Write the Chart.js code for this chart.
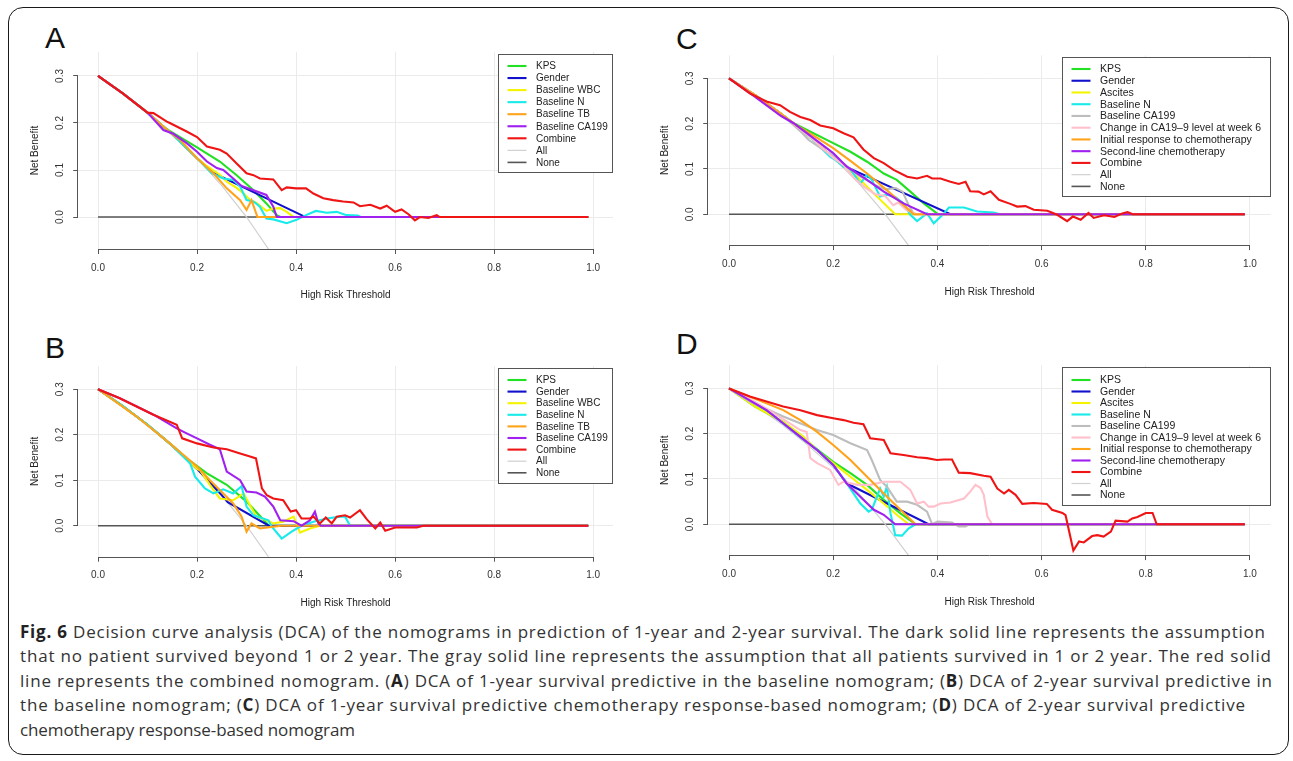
<!DOCTYPE html>
<html><head><meta charset="utf-8">
<script src="https://cdn.jsdelivr.net/npm/chart.js@4.4.0/dist/chart.umd.min.js"></script>
<style>
html,body{margin:0;padding:0;background:#fff;}
body{width:1293px;height:761px;position:relative;overflow:hidden;font-family:"Liberation Sans",Arial,sans-serif;}
#frame{position:absolute;left:8px;top:7px;width:1279px;height:746px;border:1.6px solid #1a1a1a;border-radius:15px;}
.plabel{position:absolute;font-size:30px;line-height:30px;color:#111;font-family:"Liberation Sans",Arial,sans-serif;}
canvas{position:absolute;}
#caption{position:absolute;left:20px;top:620px;font-family:"Open Sans",sans-serif;font-size:17px;color:#333;line-height:24.4px;}
.cl{white-space:nowrap;display:block;}
.cl b{color:#222;}
</style></head><body>
<div id="frame"></div>
<div class="plabel" style="left:45px;top:23px;">A</div>
<div class="plabel" style="left:45px;top:333px;">B</div>
<div class="plabel" style="left:676px;top:24px;">C</div>
<div class="plabel" style="left:676px;top:329px;">D</div>
<div id="caption">
<span class="cl" data-w="1245"><b>Fig. 6</b> Decision curve analysis (DCA) of the nomograms in prediction of 1-year and 2-year survival. The dark solid line represents the assumption</span>
<span class="cl" data-w="1251">that no patient survived beyond 1 or 2 year. The gray solid line represents the assumption that all patients survived in 1 or 2 year. The red solid</span>
<span class="cl" data-w="1252">line represents the combined nomogram. (<b>A</b>) DCA of 1-year survival predictive in the baseline nomogram; (<b>B</b>) DCA of 2-year survival predictive in</span>
<span class="cl" data-w="1225">the baseline nomogram; (<b>C</b>) DCA of 1-year survival predictive chemotherapy response-based nomogram; (<b>D</b>) DCA of 2-year survival predictive</span>
<span class="cl" data-w="335">chemotherapy response-based nomogram</span>
</div>
<script>
// ---------- tick labels ----------
const X_TICKS = [0, 0.2, 0.4, 0.6, 0.8, 1.0];
const Y_TICKS = [0, 0.1, 0.2, 0.3];

// ---------- legend labels ----------
const LABELS_AB = ['KPS','Gender','Baseline WBC','Baseline N','Baseline TB','Baseline CA199','Combine','All','None'];
const LABELS_CD = ['KPS','Gender','Ascites','Baseline N','Baseline CA199','Change in CA19\u20139 level at week 6','Initial response to chemotherapy','Second-line chemotherapy','Combine','All','None'];

// ---------- reference strategies ----------
const TREAT_ALL = [[0,0.3],[0.05,0.263],[0.1,0.222],[0.15,0.176],[0.2,0.125],[0.25,0.067],[0.3,0.0],[0.35,-0.077],[0.4,-0.167]];
const TREAT_NONE = [[0,0],[0.99,0]];

// ---------- Panel A : 1-year, baseline nomogram ----------
const A_KPS = [[0,0.3],[0.05,0.263],[0.1,0.222],[0.132,0.191],[0.2,0.148],[0.246,0.118],[0.28,0.089],[0.314,0.057],[0.34,0.029],[0.361,0.004],[0.368,0],[0.99,0]];
const A_GENDER = [[0,0.3],[0.05,0.263],[0.1,0.222],[0.15,0.176],[0.2,0.125],[0.233,0.094],[0.415,0.002],[0.42,0],[0.99,0]];
const A_WBC = [[0,0.3],[0.05,0.263],[0.1,0.222],[0.15,0.176],[0.2,0.125],[0.22,0.108],[0.246,0.09],[0.26,0.075],[0.28,0.062],[0.294,0.05],[0.307,0.036],[0.32,0.03],[0.34,0.013],[0.354,0.018],[0.368,0.019],[0.381,0.011],[0.39,0.004],[0.395,0],[0.99,0]];
const A_N = [[0,0.3],[0.05,0.263],[0.1,0.222],[0.15,0.176],[0.2,0.125],[0.23,0.093],[0.253,0.082],[0.273,0.079],[0.287,0.065],[0.3,0.036],[0.314,0.033],[0.327,0.022],[0.34,-0.003],[0.354,-0.005],[0.381,-0.013],[0.401,-0.006],[0.42,0.004],[0.44,0.013],[0.462,0.009],[0.482,0.011],[0.502,0.004],[0.525,0.003],[0.53,0],[0.99,0]];
const A_TB = [[0,0.3],[0.05,0.263],[0.1,0.222],[0.15,0.176],[0.166,0.164],[0.2,0.125],[0.233,0.093],[0.26,0.061],[0.287,0.036],[0.3,0.015],[0.31,0.036],[0.322,0],[0.99,0]];
const A_CA199 = [[0,0.3],[0.05,0.263],[0.1,0.222],[0.132,0.185],[0.152,0.177],[0.179,0.157],[0.2,0.139],[0.22,0.118],[0.24,0.104],[0.253,0.1],[0.273,0.082],[0.29,0.066],[0.314,0.057],[0.34,0.047],[0.354,0.022],[0.361,0],[0.99,0]];
const A_COMBINE = [[0,0.3],[0.05,0.263],[0.1,0.222],[0.112,0.221],[0.139,0.203],[0.145,0.2],[0.179,0.182],[0.2,0.17],[0.22,0.15],[0.246,0.143],[0.26,0.135],[0.28,0.114],[0.3,0.093],[0.314,0.089],[0.327,0.082],[0.354,0.08],[0.371,0.057],[0.381,0.063],[0.4,0.061],[0.42,0.061],[0.435,0.05],[0.455,0.04],[0.475,0.036],[0.495,0.033],[0.516,0.031],[0.529,0.023],[0.55,0.026],[0.57,0.018],[0.583,0.024],[0.6,0.011],[0.613,0.016],[0.627,0.006],[0.64,-0.007],[0.65,0],[0.667,-0.002],[0.684,0.004],[0.69,0],[0.99,0]];

// ---------- Panel B : 2-year, baseline nomogram ----------
const B_KPS = [[0,0.3],[0.05,0.263],[0.1,0.222],[0.15,0.176],[0.179,0.148],[0.22,0.115],[0.26,0.09],[0.3,0.053],[0.341,0.005],[0.345,0],[0.99,0]];
const B_GENDER = [[0,0.3],[0.05,0.263],[0.1,0.222],[0.15,0.176],[0.2,0.125],[0.25,0.067],[0.262,0.052],[0.345,0],[0.99,0]];
const B_WBC = [[0,0.3],[0.05,0.263],[0.1,0.222],[0.15,0.176],[0.2,0.125],[0.206,0.122],[0.226,0.09],[0.246,0.06],[0.273,0.056],[0.294,0.071],[0.307,0.045],[0.32,0.02],[0.341,0.012],[0.354,0.005],[0.374,0.009],[0.395,0.02],[0.408,-0.015],[0.428,-0.006],[0.448,0],[0.99,0]];
const B_N = [[0,0.3],[0.05,0.263],[0.1,0.222],[0.15,0.176],[0.186,0.137],[0.196,0.108],[0.216,0.082],[0.233,0.071],[0.253,0.08],[0.273,0.071],[0.29,0.087],[0.3,0.042],[0.314,0.023],[0.344,0.012],[0.351,-0.002],[0.371,-0.028],[0.391,-0.013],[0.411,0],[0.435,0.009],[0.462,0.016],[0.489,0.02],[0.499,0.02],[0.509,0],[0.99,0]];
const B_TB = [[0,0.3],[0.078,0.24],[0.145,0.181],[0.172,0.156],[0.2,0.13],[0.226,0.1],[0.253,0.071],[0.273,0.049],[0.29,0.02],[0.3,-0.013],[0.31,0.005],[0.327,-0.006],[0.354,-0.002],[0.37,0],[0.99,0]];
const B_CA199 = [[0,0.3],[0.044,0.28],[0.112,0.244],[0.159,0.214],[0.179,0.203],[0.2,0.192],[0.226,0.178],[0.246,0.168],[0.26,0.119],[0.287,0.1],[0.3,0.075],[0.32,0.073],[0.337,0.064],[0.354,0.042],[0.368,0.012],[0.395,0.01],[0.411,0],[0.428,0.012],[0.438,0.031],[0.445,0.005],[0.45,0],[0.99,0]];
const B_COMBINE = [[0,0.3],[0.044,0.28],[0.112,0.244],[0.159,0.222],[0.17,0.192],[0.2,0.181],[0.233,0.172],[0.26,0.168],[0.287,0.159],[0.307,0.152],[0.319,0.148],[0.331,0.082],[0.341,0.067],[0.354,0.06],[0.374,0.056],[0.389,0.031],[0.4,0.034],[0.411,0.016],[0.428,0.016],[0.435,0.02],[0.448,0.005],[0.46,0.018],[0.472,0.005],[0.482,0.02],[0.499,0.023],[0.509,0.018],[0.529,0.034],[0.543,0.014],[0.56,-0.006],[0.57,0.007],[0.58,-0.011],[0.6,-0.004],[0.644,-0.004],[0.657,0],[0.99,0]];

// ---------- Panel C : 1-year, chemotherapy response-based ----------
const C_KPS = [[0,0.3],[0.05,0.263],[0.1,0.222],[0.124,0.201],[0.2,0.157],[0.233,0.138],[0.265,0.116],[0.297,0.09],[0.322,0.076],[0.348,0.05],[0.374,0.024],[0.399,0.002],[0.402,0],[0.99,0]];
const C_GENDER = [[0,0.3],[0.05,0.263],[0.1,0.222],[0.15,0.176],[0.2,0.125],[0.226,0.104],[0.425,0],[0.99,0]];
const C_ASCITES = [[0,0.3],[0.05,0.263],[0.1,0.222],[0.15,0.176],[0.2,0.125],[0.226,0.1],[0.246,0.083],[0.284,0.039],[0.319,0],[0.99,0]];
const C_N = [[0,0.3],[0.05,0.263],[0.1,0.222],[0.15,0.176],[0.194,0.127],[0.204,0.12],[0.22,0.105],[0.233,0.099],[0.252,0.068],[0.265,0.087],[0.274,0.076],[0.29,0.039],[0.303,0.043],[0.319,0.038],[0.335,0.024],[0.348,-0.001],[0.361,-0.015],[0.38,0.002],[0.393,-0.02],[0.412,0.001],[0.422,0.015],[0.451,0.015],[0.476,0.006],[0.508,0.004],[0.52,0],[0.99,0]];
const C_CA199 = [[0,0.3],[0.05,0.263],[0.1,0.222],[0.14,0.18],[0.153,0.164],[0.181,0.142],[0.2,0.13],[0.25,0.085],[0.28,0.065],[0.3,0.055],[0.32,0.058],[0.333,0.05],[0.345,0.02],[0.355,0],[0.99,0]];
const C_CHANGE = [[0,0.3],[0.05,0.263],[0.1,0.222],[0.15,0.176],[0.2,0.125],[0.22,0.108],[0.24,0.08],[0.26,0.06],[0.28,0.045],[0.3,0.04],[0.315,0.02],[0.325,0.026],[0.34,0.01],[0.36,0],[0.99,0]];
const C_INITIAL = [[0,0.3],[0.05,0.263],[0.1,0.222],[0.13,0.196],[0.17,0.168],[0.2,0.146],[0.233,0.118],[0.265,0.09],[0.297,0.059],[0.322,0.034],[0.348,0.007],[0.354,0],[0.99,0]];
const C_SECOND = [[0,0.3],[0.05,0.259],[0.1,0.217],[0.124,0.201],[0.2,0.135],[0.226,0.105],[0.265,0.076],[0.297,0.05],[0.335,0.024],[0.38,0],[0.99,0]];
const C_COMBINE = [[0,0.3],[0.04,0.267],[0.072,0.249],[0.098,0.241],[0.117,0.226],[0.137,0.215],[0.156,0.208],[0.175,0.196],[0.2,0.19],[0.22,0.179],[0.239,0.17],[0.258,0.143],[0.278,0.124],[0.297,0.113],[0.316,0.098],[0.342,0.083],[0.361,0.079],[0.38,0.085],[0.39,0.079],[0.406,0.079],[0.425,0.072],[0.441,0.067],[0.454,0.072],[0.463,0.051],[0.479,0.05],[0.489,0.044],[0.502,0.051],[0.518,0.032],[0.54,0.023],[0.553,0.017],[0.569,0.018],[0.585,0.01],[0.611,0.008],[0.63,-0.001],[0.649,-0.015],[0.66,-0.005],[0.675,-0.012],[0.69,0.003],[0.7,-0.008],[0.72,-0.002],[0.74,-0.006],[0.755,0.002],[0.765,0.005],[0.775,0],[0.99,0]];

// ---------- Panel D : 2-year, chemotherapy response-based ----------
const D_KPS = [[0,0.3],[0.05,0.26],[0.104,0.226],[0.143,0.19],[0.175,0.16],[0.2,0.138],[0.233,0.113],[0.265,0.087],[0.297,0.054],[0.329,0.024],[0.358,0],[0.99,0]];
const D_GENDER = [[0,0.3],[0.072,0.252],[0.104,0.223],[0.137,0.193],[0.169,0.164],[0.2,0.131],[0.226,0.09],[0.239,0.083],[0.383,0],[0.99,0]];
const D_ASCITES = [[0,0.3],[0.05,0.26],[0.104,0.226],[0.143,0.193],[0.175,0.157],[0.2,0.135],[0.233,0.105],[0.265,0.076],[0.297,0.046],[0.322,0.021],[0.345,0],[0.99,0]];
const D_N = [[0,0.3],[0.072,0.252],[0.104,0.223],[0.137,0.193],[0.169,0.164],[0.2,0.131],[0.226,0.09],[0.252,0.046],[0.268,0.028],[0.274,0.032],[0.29,0.079],[0.297,0.061],[0.303,0.083],[0.31,0.024],[0.319,-0.024],[0.332,-0.025],[0.345,-0.009],[0.358,0],[0.99,0]];
const D_CA199 = [[0,0.3],[0.04,0.271],[0.104,0.238],[0.169,0.208],[0.2,0.197],[0.233,0.179],[0.265,0.164],[0.274,0.142],[0.29,0.098],[0.303,0.083],[0.322,0.05],[0.342,0.05],[0.361,0.043],[0.38,0.028],[0.39,0],[0.4,0.006],[0.428,0.004],[0.441,-0.005],[0.454,-0.005],[0.46,0],[0.99,0]];
const D_CHANGE = [[0,0.3],[0.05,0.27],[0.1,0.235],[0.137,0.208],[0.149,0.204],[0.156,0.146],[0.169,0.135],[0.194,0.12],[0.21,0.087],[0.22,0.094],[0.246,0.087],[0.271,0.087],[0.297,0.094],[0.329,0.094],[0.348,0.076],[0.361,0.046],[0.374,0.05],[0.383,0.039],[0.393,0.039],[0.406,0.046],[0.425,0.048],[0.451,0.057],[0.463,0.072],[0.473,0.087],[0.483,0.08],[0.489,0.065],[0.496,0.017],[0.505,0],[0.99,0]];
const D_INITIAL = [[0,0.3],[0.072,0.267],[0.104,0.252],[0.137,0.23],[0.169,0.204],[0.2,0.175],[0.233,0.142],[0.265,0.105],[0.297,0.068],[0.329,0.032],[0.358,0],[0.99,0]];
const D_SECOND = [[0,0.3],[0.072,0.252],[0.104,0.223],[0.137,0.193],[0.169,0.164],[0.2,0.131],[0.226,0.09],[0.252,0.061],[0.278,0.032],[0.297,0.021],[0.319,0],[0.99,0]];
const D_COMBINE = [[0,0.3],[0.04,0.282],[0.072,0.271],[0.104,0.26],[0.137,0.252],[0.169,0.241],[0.2,0.234],[0.22,0.23],[0.239,0.224],[0.258,0.221],[0.271,0.19],[0.297,0.186],[0.31,0.157],[0.335,0.153],[0.361,0.148],[0.38,0.146],[0.399,0.142],[0.412,0.143],[0.428,0.143],[0.441,0.114],[0.463,0.113],[0.489,0.107],[0.502,0.105],[0.515,0.079],[0.528,0.068],[0.537,0.076],[0.55,0.065],[0.563,0.045],[0.585,0.047],[0.61,0.045],[0.62,0.032],[0.64,0.025],[0.646,0.02],[0.661,-0.058],[0.672,-0.038],[0.681,-0.04],[0.697,-0.026],[0.707,-0.024],[0.719,-0.027],[0.733,-0.016],[0.742,0.008],[0.765,0.006],[0.774,0.013],[0.784,0.016],[0.8,0.025],[0.813,0.025],[0.821,0],[0.99,0]];

// ---------- styles ----------
const FONT = '"Liberation Sans", Arial, sans-serif';
const COLORS_AB = ['#22e022','#1111cc','#f4f400','#19eaea','#ffa31a','#a020f0','#f01515','#d0d0d0','#555555'];
const COLORS_CD = ['#22e022','#1111cc','#f4f400','#19eaea','#bdbdbd','#ffc0cb','#ffa31a','#a020f0','#f01515','#d0d0d0','#555555'];

const PANELS = [
  {box:{l:78.2,t:52,r:613,b:249}, labels:LABELS_AB, colors:COLORS_AB,
   series:[A_KPS,A_GENDER,A_WBC,A_N,A_TB,A_CA199,A_COMBINE,TREAT_ALL,TREAT_NONE], leg:{w:115,row:12.05,first:12,font:10}},
  {box:{l:78.2,t:366,r:613,b:556.7}, labels:LABELS_AB, colors:COLORS_AB,
   series:[B_KPS,B_GENDER,B_WBC,B_N,B_TB,B_CA199,B_COMBINE,TREAT_ALL,TREAT_NONE], leg:{w:115,row:11.6,first:12,font:10}},
  {box:{l:708.2,t:55.3,r:1270.8,b:245.1}, labels:LABELS_CD, colors:COLORS_CD,
   series:[C_KPS,C_GENDER,C_ASCITES,C_N,C_CA199,C_CHANGE,C_INITIAL,C_SECOND,C_COMBINE,TREAT_ALL,TREAT_NONE], leg:{w:208.5,row:11.74,first:12,font:10.5}},
  {box:{l:708.2,t:365.3,r:1270.8,b:555.1}, labels:LABELS_CD, colors:COLORS_CD,
   series:[D_KPS,D_GENDER,D_ASCITES,D_N,D_CA199,D_CHANGE,D_INITIAL,D_SECOND,D_COMBINE,TREAT_ALL,TREAT_NONE], leg:{w:208.5,row:11.5,first:13,font:10.5}}
];

function lineWidthFor(label){ return label==='All' ? 1.2 : (label==='None' ? 1.6 : 2.1); }

function makePanel(p){
  const YW=64, PT=12, PR=6, XH=62;
  const left = Math.floor(p.box.l - YW), top = Math.floor(p.box.t - PT);
  const yw = p.box.l - left, pt = p.box.t - top;
  const w = Math.ceil(p.box.r - left + PR), h = Math.ceil(p.box.b - top + XH);
  const prRight = w - (p.box.r - left);
  const xh = h - (p.box.b - top);
  const c = document.createElement('canvas');
  c.width = w; c.height = h;
  c.style.left = left+'px'; c.style.top = top+'px'; c.style.width = w+'px'; c.style.height = h+'px';
  document.body.appendChild(c);
  const n = p.labels.length;
  const datasets = p.labels.map((lab,i)=>({
    label: lab, data: p.series[i], borderColor: p.colors[i], backgroundColor: p.colors[i],
    borderWidth: lineWidthFor(lab), pointRadius: 0, tension: 0, fill: false, clip: 0,
    order: (lab==='All') ? n : (lab==='None' ? n+1 : (n-3) - i)
  }));
  const rPlugin = {
    id: 'rStyle',
    afterDatasetsDraw(chart){
      const ctx = chart.ctx, ca = chart.chartArea, xs = chart.scales.x, ys = chart.scales.y;
      ctx.save();
      ctx.strokeStyle = '#555'; ctx.lineWidth = 1;
      ctx.beginPath();
      const yb = Math.round(ca.bottom) + 0.5;
      ctx.moveTo(xs.getPixelForValue(X_TICKS[0]), yb); ctx.lineTo(xs.getPixelForValue(X_TICKS[X_TICKS.length-1]), yb);
      const xl = Math.round(ca.left) - 0.5;
      ctx.moveTo(xl, ys.getPixelForValue(Y_TICKS[0])); ctx.lineTo(xl, ys.getPixelForValue(Y_TICKS[Y_TICKS.length-1]));
      ctx.stroke();
      const L = p.leg;
      const x0 = Math.round(ca.right - L.w), y0 = Math.round(ca.top + 2);
      const hgt = Math.round(L.first + (n-1)*L.row + 10);
      ctx.fillStyle = '#fff'; ctx.fillRect(x0, y0, Math.round(L.w), hgt);
      ctx.strokeStyle = '#555'; ctx.lineWidth = 1;
      ctx.strokeRect(x0+0.5, y0+0.5, Math.round(L.w)-1, hgt);
      ctx.font = L.font + 'px ' + FONT; ctx.textBaseline = 'middle'; ctx.textAlign = 'left';
      p.labels.forEach((lab,i)=>{
        const y = y0 + L.first + i*L.row;
        ctx.strokeStyle = p.colors[i]; ctx.lineWidth = lineWidthFor(lab);
        ctx.beginPath(); ctx.moveTo(x0+9.5, y); ctx.lineTo(x0+28.5, y); ctx.stroke();
        ctx.fillStyle = '#222'; ctx.fillText(lab, x0+38, y+0.5);
      });
      ctx.restore();
    }
  };
  const gridOpts = {color:'#ebebeb', lineWidth:1, drawTicks:true, tickLength:5, tickColor:'#555', tickWidth:1};
  new Chart(c, {
    type: 'line',
    data: {datasets},
    plugins: [rPlugin],
    options: {
      responsive:false, animation:false, events:[], devicePixelRatio:1,
      layout:{autoPadding:false, padding:{left:0, top:pt, right:prRight, bottom:0}},
      plugins:{legend:{display:false}, tooltip:{enabled:false}},
      scales:{
        x:{type:'linear', min:-0.04, max:1.04,
          afterBuildTicks: s => { s.ticks = X_TICKS.map(v=>({value:v})); },
          afterFit: s => { s.height = xh; },
          ticks:{callback:v=>Number(v).toFixed(1), font:{family:FONT,size:10}, color:'#333', padding:8, minRotation:0, maxRotation:0, autoSkip:false},
          grid:gridOpts, border:{display:false},
          title:{display:true, text:'High Risk Threshold', font:{family:FONT,size:10}, color:'#222', padding:{top:0,bottom:10}}},
        y:{type:'linear', min:-0.068, max:0.351,
          afterBuildTicks: s => { s.ticks = Y_TICKS.map(v=>({value:v})); },
          afterFit: s => { s.width = yw; },
          ticks:{callback:v=>Number(v).toFixed(1), font:{family:FONT,size:10}, color:'#333', padding:6, minRotation:90, maxRotation:90, crossAlign:'center', autoSkip:false},
          grid:gridOpts, border:{display:false},
          title:{display:true, text:'Net Benefit', font:{family:FONT,size:10}, color:'#222', padding:{top:15.5,bottom:0}}}
      }
    }
  });
}
PANELS.forEach(makePanel);

// caption line widths to match reference line ends (spread over letters)
document.querySelectorAll('#caption .cl').forEach(el=>{
  const target = parseFloat(el.dataset.w || '0');
  if (!target) return;
  el.style.display = 'inline-block';
  const nat = el.getBoundingClientRect().width;
  const chars = el.textContent.length;
  if (chars > 1) el.style.letterSpacing = ((target - nat) / (chars - 1)) + 'px';
  el.style.display = 'block';
});
</script>
</body></html>
